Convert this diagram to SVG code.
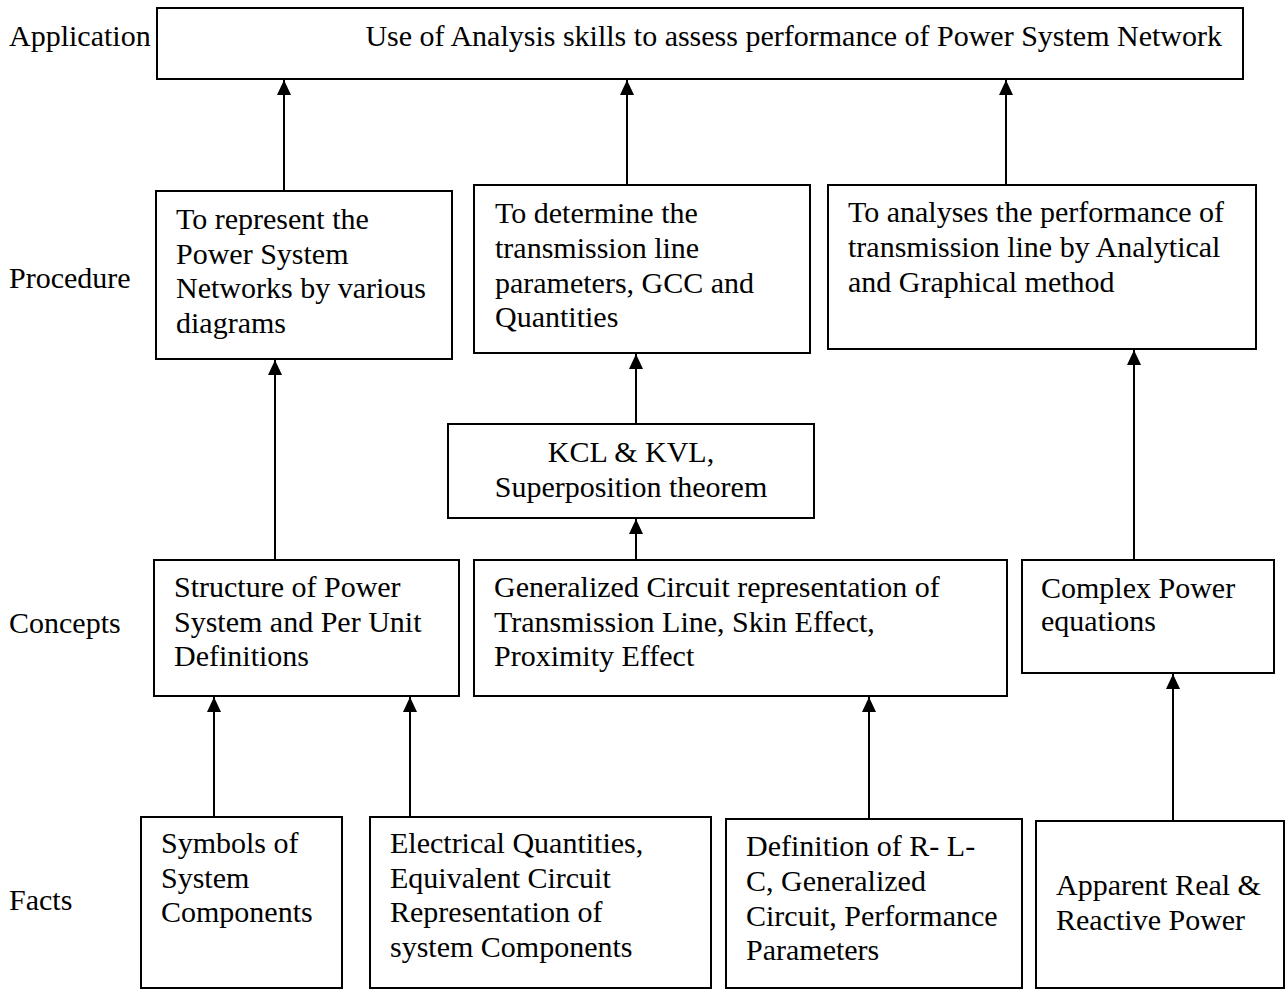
<svg xmlns="http://www.w3.org/2000/svg" width="1285" height="990" viewBox="0 0 1285 990">
<style>
  rect.box { fill: #fff; stroke: #000; stroke-width: 2; }
  text { font-family: "Liberation Serif", "Times New Roman", serif; font-size: 30px; fill: #000; }
  .conn line { stroke: #000; stroke-width: 2; }
</style>
<defs>
  <marker id="arr" markerUnits="userSpaceOnUse" markerWidth="16" markerHeight="16" viewBox="0 0 16 16" refX="15" refY="8" orient="auto">
    <path d="M0,1 L15,8 L0,15 Z" fill="#000"/>
  </marker>
</defs>
<rect width="1285" height="990" fill="#fff"/>

<g id="levels">
  <text x="9" y="46">Application</text>
  <text x="9" y="288">Procedure</text>
  <text x="9" y="633">Concepts</text>
  <text x="9" y="910">Facts</text>
</g>

<g id="app">
  <rect class="box" x="157" y="8" width="1086" height="71"/>
  <text x="1222" y="46" text-anchor="end">Use of Analysis skills to assess performance of Power System Network</text>
</g>

<g id="proc1">
  <rect class="box" x="156" y="191" width="296" height="168"/>
  <text x="176" y="229">To represent the</text>
  <text x="176" y="263.5">Power System</text>
  <text x="176" y="298">Networks by various</text>
  <text x="176" y="332.5">diagrams</text>
</g>

<g id="proc2">
  <rect class="box" x="474" y="185" width="336" height="168"/>
  <text x="495" y="223">To determine the</text>
  <text x="495" y="258">transmission line</text>
  <text x="495" y="293">parameters, GCC and</text>
  <text x="495" y="327">Quantities</text>
</g>

<g id="proc3">
  <rect class="box" x="828" y="185" width="428" height="164"/>
  <text x="848" y="222">To analyses the performance of</text>
  <text x="848" y="257">transmission line by Analytical</text>
  <text x="848" y="292">and Graphical method</text>
</g>

<g id="kcl">
  <rect class="box" x="448" y="424" width="366" height="94"/>
  <text x="631" y="462" text-anchor="middle">KCL &amp; KVL,</text>
  <text x="631" y="497" text-anchor="middle">Superposition theorem</text>
</g>

<g id="concept1">
  <rect class="box" x="154" y="560" width="305" height="136"/>
  <text x="174" y="597">Structure of Power</text>
  <text x="174" y="631.5">System and Per Unit</text>
  <text x="174" y="666">Definitions</text>
</g>

<g id="concept2">
  <rect class="box" x="474" y="560" width="533" height="136"/>
  <text x="494" y="597">Generalized Circuit representation of</text>
  <text x="494" y="631.5">Transmission Line, Skin Effect,</text>
  <text x="494" y="666">Proximity Effect</text>
</g>

<g id="concept3">
  <rect class="box" x="1022" y="560" width="252" height="113"/>
  <text x="1041" y="598">Complex Power</text>
  <text x="1041" y="631">equations</text>
</g>

<g id="fact1">
  <rect class="box" x="141" y="817" width="201" height="171"/>
  <text x="161" y="853">Symbols of</text>
  <text x="161" y="887.5">System</text>
  <text x="161" y="922">Components</text>
</g>

<g id="fact2">
  <rect class="box" x="370" y="817" width="341" height="171"/>
  <text x="390" y="853">Electrical Quantities,</text>
  <text x="390" y="887.5">Equivalent Circuit</text>
  <text x="390" y="922">Representation of</text>
  <text x="390" y="956.5">system Components</text>
</g>

<g id="fact3">
  <rect class="box" x="726" y="819" width="296" height="169"/>
  <text x="746" y="856">Definition of R- L-</text>
  <text x="746" y="891">C, Generalized</text>
  <text x="746" y="926">Circuit, Performance</text>
  <text x="746" y="960">Parameters</text>
</g>

<g id="fact4">
  <rect class="box" x="1036" y="821" width="248" height="167"/>
  <text x="1056" y="895">Apparent Real &amp;</text>
  <text x="1056" y="930">Reactive Power</text>
</g>

<g id="connectors" class="conn">
  <line x1="284" y1="190" x2="284" y2="80" marker-end="url(#arr)"/>
  <line x1="627" y1="185" x2="627" y2="80" marker-end="url(#arr)"/>
  <line x1="1006" y1="185" x2="1006" y2="80" marker-end="url(#arr)"/>
  <line x1="275" y1="560" x2="275" y2="360" marker-end="url(#arr)"/>
  <line x1="636" y1="424" x2="636" y2="354" marker-end="url(#arr)"/>
  <line x1="636" y1="560" x2="636" y2="519" marker-end="url(#arr)"/>
  <line x1="1134" y1="560" x2="1134" y2="350" marker-end="url(#arr)"/>
  <line x1="214" y1="817" x2="214" y2="697" marker-end="url(#arr)"/>
  <line x1="410" y1="817" x2="410" y2="697" marker-end="url(#arr)"/>
  <line x1="869" y1="819" x2="869" y2="697" marker-end="url(#arr)"/>
  <line x1="1173" y1="821" x2="1173" y2="674" marker-end="url(#arr)"/>
</g>
</svg>
